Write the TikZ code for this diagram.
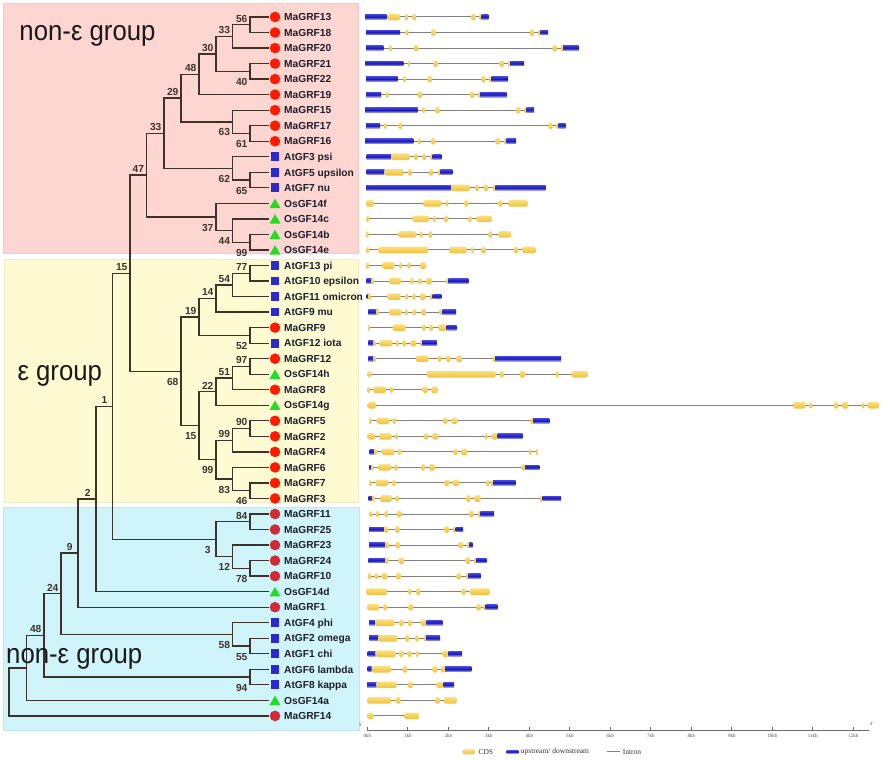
\documentclass[tikz,border=0pt]{standalone}
\usepackage{graphicx}
\usepackage{fontspec}
\setmainfont{Liberation Serif}
\newfontfamily\lsans{Liberation Sans}
\newfontfamily\lserif{Liberation Serif}
\usetikzlibrary{shapes.geometric,calc}
\definecolor{pinkbg}{HTML}{FDD5D1}
\definecolor{yelbg}{HTML}{FEFBD3}
\definecolor{bluebg}{HTML}{CFF4FA}
\definecolor{treec}{HTML}{3F322B}
\definecolor{redA}{HTML}{FF1A00}
\definecolor{redB}{HTML}{D12A36}
\definecolor{sqblue}{HTML}{2A2AD0}
\definecolor{trigreen}{HTML}{22DD22}
\definecolor{txtc}{HTML}{1E1E2E}
\definecolor{cdsT}{HTML}{FAE07E}
\definecolor{cdsB}{HTML}{F0C03A}
\definecolor{utrT}{HTML}{4040D8}
\definecolor{utrM}{HTML}{1616B4}
\definecolor{utrB}{HTML}{A8A8F0}
\definecolor{intronc}{HTML}{808080}
\definecolor{axisc}{HTML}{6A6A6A}

\newcommand\gene[4]{%
  \coordinate (gs#1) at (#2,{17+15.531*#1});
  \coordinate (ge#1) at (#3,{17+15.531*#1});
  \draw[intronl] (gs#1) -- (ge#1);
  \foreach \gk/\ga/\gb in {#4}{%
    \pgfmathsetmacro\rr{min(1.6,(\gb-\ga)/2)}%
    \if\gk u\relax
      \shade[utrs] (\ga,{17+15.531*#1-2.4}) rectangle (\gb,{17+15.531*#1+2.4});
    \else
      \shade[cdss, rounded corners=\rr pt] (\ga,{17+15.531*#1-3.3}) rectangle (\gb,{17+15.531*#1+3.3});
    \fi
  }%
}

\tikzset{
  br/.style={draw=treec, line width=1.3pt, line cap=rect},
  intronl/.style={draw=intronc, line width=1.0pt},
  utrs/.style={top color=utrT, bottom color=utrB, middle color=utrM},
  cdss/.style={top color=cdsT, bottom color=cdsB},
  mkr/.style={circle, fill=redA, minimum size=10.6pt, inner sep=0pt},
  mkd/.style={circle, fill=redB, minimum size=10.6pt, inner sep=0pt},
  mkb/.style={rectangle, fill=sqblue, minimum size=8.8pt, inner sep=0pt},
  mkg/.style={regular polygon, regular polygon sides=3, fill=trigreen, minimum size=12.6pt, inner sep=0pt, yshift=-1.5pt},
  lbl/.style={anchor=base west, inner sep=0pt, text=txtc, font=\lsans\bfseries\fontsize{10.2}{12}\selectfont},
  bs/.style={inner sep=0pt, text height=7.5pt, text depth=0pt, text=treec, font=\lsans\bfseries\fontsize{10.2}{12}\selectfont},
  bsa/.style={bs, anchor=south},
  bsb/.style={bs, anchor=north},
  big/.style={anchor=base west, inner sep=0pt, text=black!90, font=\lsans\fontsize{28}{30}\selectfont},
  axisl/.style={draw=axisc, line width=0.8pt},
  tick/.style={inner sep=0pt, text=black!70, font=\lserif\fontsize{5}{6}\selectfont},
  legtxt/.style={anchor=west, inner sep=0pt, text=black!80, font=\lserif\fontsize{7.5}{9}\selectfont},
}

\begin{document}
\begin{tikzpicture}[x=1pt, y=-1pt]
\useasboundingbox (0,0) rectangle (890,760);
\fill[white] (0,0) rectangle (890,760);

% group panels
\fill[pinkbg, draw=pinkbg!90!gray, line width=0.6pt] (3,3) rectangle (358,253);
\fill[yelbg, draw=yelbg!88!gray, line width=0.6pt] (4,259) rectangle (358,502);
\fill[bluebg, draw=bluebg!88!gray, line width=0.6pt] (3,507) rectangle (359,730);

% gene structures
\gene{0}{365}{488.3}{u/365/386.7, c/387.3/400, c/405/408, c/412.3/416.7, c/471.3/475.7, c/479.2/482, u/481.7/488.3}
\gene{1}{366}{548}{u/366/400, c/405.3/408.5, c/431/435.7, c/530/534.3, c/538/540.5, u/540.3/548}
\gene{2}{366}{578.7}{u/366/383.3, c/389/391.8, c/414/418.3, c/552.3/557, c/560.7/563.2, u/563/578.7}
\gene{3}{365}{524}{u/365/403.3, c/408/410.7, c/433.3/437.7, c/499.7/504, c/507.7/510.2, u/510/524}
\gene{4}{366}{508}{u/366/397.7, c/403.3/406, c/427.3/432, c/481.3/485.7, c/489/491.5, u/491.3/508}
\gene{5}{366}{506.7}{u/366/381, c/386/388.5, c/417.7/422, c/470/474.3, c/477.8/480.2, u/480/506.7}
\gene{6}{365}{534}{u/365/417.7, c/422.5/425, c/435.3/439.7, c/516/520.3, c/524.3/526.9, u/526.7/534}
\gene{7}{366}{565.7}{u/366/380, c/384.2/386.7, c/398.3/402.7, c/548.3/552.7, c/556.3/558.9, u/558.7/565.7}
\gene{8}{365}{516}{u/365/413.3, c/418.2/420.7, c/431/435.3, c/495.7/500, c/504/506.5, u/506.3/516}
\gene{9}{366.7}{441.7}{u/366.7/391, c/391/410, c/414/418, c/422.3/426.7, c/430.5/433, u/432.7/441.7}
\gene{10}{366.7}{452.3}{u/366.7/384.3, c/384.3/403.7, c/408/412, c/429/433, c/438/440.5, u/440.3/452.3}
\gene{11}{366}{545.7}{u/366/451, c/451/469.7, c/475/479, c/484/488, c/493/495.5, u/495.3/545.7}
\gene{12}{366}{527.7}{c/366/373.7, c/423.3/441.7, c/445.8/448.3, c/464.3/468.3, c/498.7/502.7, c/508.3/527.7}
\gene{13}{366.5}{492}{c/366.5/369, c/412.7/429, c/433/435.7, c/444.3/448.3, c/468.3/471.7, c/476.7/492}
\gene{14}{366}{511}{c/366/368.5, c/398.3/416.3, c/420/422.7, c/428.3/432.7, c/488.3/492.7, c/498.3/511}
\gene{15}{366.5}{536}{c/366.5/369, c/378.3/428.3, c/449/467, c/471/473.7, c/481/485.7, c/513.7/518.3, c/522.3/536}
\gene{16}{366.5}{426}{c/366.5/369, c/382.3/394.3, c/399.3/402, c/407.3/410.7, c/420/426}
\gene{17}{366.7}{468.3}{u/366.7/371.7, c/371.5/374, c/389/401, c/410.3/413.7, c/418.3/422, c/426.3/432, c/446.5/449, u/448.3/468.3}
\gene{18}{366.7}{441.3}{u/366.7/368.5, c/368.3/370.9, c/387.7/400.7, c/405/408.3, c/412.3/415.7, c/420/425.7, c/430.5/433, u/432.7/441.3}
\gene{19}{368.3}{456}{u/368.3/376.7, c/376.5/379, c/389/401.3, c/405/407.7, c/412.7/416.3, c/421/426.7, c/439.3/442.7, u/442.7/456}
\gene{20}{368}{456.7}{c/368/370.5, c/392.7/405.7, c/422.3/425.7, c/429.3/433, c/438.3/446.7, u/446.7/456.7}
\gene{21}{368.3}{436.7}{u/368.3/373.3, c/373.2/375.8, c/379.7/392.3, c/396/398.7, c/402.7/406.3, c/410.3/416.3, c/419.8/422.3, u/422/436.7}
\gene{22}{368.3}{561}{u/368.3/373.3, c/373.2/375.8, c/416/428.7, c/437.7/441, c/446/450.7, c/456.3/462.3, c/492.5/495.2, u/495/561}
\gene{23}{367.7}{587.7}{c/367.7/371.3, c/426.7/495.7, c/499.7/503.7, c/519.7/525.3, c/556.2/558.6, c/571.7/587.7}
\gene{24}{367.7}{437.7}{c/367.7/370.2, c/373.3/386, c/390/393, c/422.7/427.7, c/431.3/437.7}
\gene{25}{367.7}{879}{c/367.7/376, c/793.3/805.7, c/809/812.3, c/834/838.3, c/842/848.3, c/861.8/864.3, c/867.7/879}
\gene{26}{369}{549.3}{c/369/371.7, c/376.7/389.3, c/392.7/396, c/443.3/447.3, c/451.7/457.3, c/530.3/533.2, u/533/549.3}
\gene{27}{367.7}{522.7}{c/367.7/375, c/379/391.7, c/395/398.3, c/424/428.3, c/432.3/438.3, c/485/487.5, c/491.7/497.7, u/497.7/522.7}
\gene{28}{369.7}{538}{u/369.7/374, c/374/377, c/381.7/394.3, c/398/401.3, c/453.7/457.7, c/461/467.3, c/528.8/531.3, c/535.5/538}
\gene{29}{369}{539.3}{u/369/371.2, c/371/373.7, c/378.3/391, c/394.3/397.7, c/421/425.3, c/429/435, c/521.7/525.2, u/525/539.3}
\gene{30}{369}{515.7}{c/369/371.7, c/375.7/388.3, c/392/395.3, c/444.3/449.3, c/452.7/459, c/486.7/489.2, c/491/493.2, u/493/515.7}
\gene{31}{368.3}{561}{u/368.3/372.3, c/372.2/374.6, c/380/392, c/395.7/399, c/466/470.7, c/474.3/480.7, c/540/542.5, u/542.3/561}
\gene{32}{369.3}{494}{c/369.3/372.3, c/376/379, c/384.3/388.7, c/396.7/401.3, c/468.7/473.7, c/478/480.5, u/480.3/494}
\gene{33}{369}{463}{u/369/384.3, c/384.3/388.3, c/395/399.7, c/444.3/449, c/453.3/455.9, u/455.7/463}
\gene{34}{369}{472.3}{u/369/385, c/385/389, c/395.3/400, c/458.3/463, c/467/469.5, u/469.3/472.3}
\gene{35}{368.3}{486.7}{u/368.3/385, c/385/388.7, c/398.7/404, c/465.3/470.3, c/474/476.2, u/476/486.7}
\gene{36}{367.7}{480.7}{c/367.7/371, c/374.7/378, c/381.7/387.3, c/396/401, c/456.7/461, c/466/468.5, u/468.3/480.7}
\gene{37}{366}{490}{c/366/387, c/408.7/411.3, c/416/420.7, c/461.7/465.7, c/469.7/490}
\gene{38}{367.3}{497.3}{c/367.3/379, c/383.3/387.3, c/408.3/413.3, c/476.3/481, c/483.6/486, u/485.7/497.3}
\gene{39}{369}{442.3}{u/369/375, c/375/395, c/399/403.7, c/408/412, c/420.7/426.3, u/426.3/442.3}
\gene{40}{369}{440}{u/369/378.3, c/378.3/397.3, c/405/409.3, c/415/419, c/423.8/426.2, u/426/440}
\gene{41}{367.7}{462}{u/367.7/375.7, c/375.7/395.7, c/399/403.3, c/407.7/411.7, c/416/418.5, c/442.3/448.3, u/448.3/462}
\gene{42}{367.7}{471.3}{u/367.7/371.7, c/371.7/391, c/402.7/407.3, c/432.7/437.3, c/441/445, u/445/471.3}
\gene{43}{367}{454}{u/367/376.7, c/376.7/396.7, c/407.7/412.7, c/436.7/443.3, u/443.3/454}
\gene{44}{367}{456.7}{c/367/391, c/395.7/400.7, c/435/440, c/444/456.7}
\gene{45}{367.3}{419}{c/367.3/373.7, c/404.3/419}

% axis
\coordinate (ax0) at (367.3,730);
\coordinate (ax1) at (868.5,730);
\draw[axisl] (ax0) -- (ax1);
\foreach \k in {0,...,12}{
  \coordinate (tk\k) at ({367.3+40.5*\k},730);
  \draw[axisl] (tk\k) -- ++(0,-3);
  \node[tick] (tl\k) at ({367.3+40.5*\k},735.5) {\k kb};
}
\node[tick] (p5) at (360.5,724.5) {5'};
\node[tick] (p3) at (871.5,723.5) {3'};

% legend
\node[shade, top color=cdsT, bottom color=cdsB, rounded corners=2pt, minimum width=12.3pt, minimum height=5pt, inner sep=0pt] (lgc) at (468.8,751.8) {};
\node[legtxt] (lgct) at (478.3,751.7) {CDS};
\node[shade, top color=utrT, bottom color=utrB, middle color=utrM, minimum width=11.6pt, minimum height=3pt, inner sep=0pt] (lgu) at (512.5,751.8) {};
\node[legtxt] (lgut) at (520.7,751.7) {upstream/ downstream};
\coordinate (lgi0) at (606.7,751.7);
\coordinate (lgi1) at (620,751.7);
\draw[intronl] (lgi0) -- (lgi1);
\node[legtxt] (lgit) at (622.7,751.7) {Intron};

% tree: internal nodes
\foreach \n/\x/\y in {A/250/24.8, B/232.7/36.4, C/250/71.4, D/216/53.9, E/199/74.3, F/250/133.5, G/232.7/121.9, H/181/98.1, I/250/180.0, J/232.7/168.4, K/164/133.2, L/250/242.2, M/232.7/230.6, N/216/217.0, O/146.7/175.1,
 e77/250/273.3, e54/232.7/284.9, e14/216/298.5, e52/250/335.4, e19/199/317.0, e97/250/366.5, e51/232.7/378.1, e22/216/391.7, e90/250/428.6, e99/232.7/440.2, e46/250/490.7, e83/232.7/479.0, e99b/216/459.6, e15b/199/425.7, e68/181/371.3, n15/130/273.2,
 b84/250/521.7, b78/250/568.3, b12/232.7/556.7, b3/216/539.2, n1/112.7/406.2, n2/96/498.9, n9/78/553.0, b55/250/646.0, b58/232.7/634.3, n24/61/593.7, b94/250/677.0, n48/44/635.4, n0/26.7/667.9, root/9/691.9}
  {\coordinate (\n) at (\x,\y);}

% leaves
\foreach \i/\nm/\k in {0/MaGRF13/r, 1/MaGRF18/r, 2/MaGRF20/r, 3/MaGRF21/r, 4/MaGRF22/r, 5/MaGRF19/r, 6/MaGRF15/r, 7/MaGRF17/r, 8/MaGRF16/r, 9/AtGF3 psi/b, 10/AtGF5 upsilon/b, 11/AtGF7 nu/b, 12/OsGF14f/g, 13/OsGF14c/g, 14/OsGF14b/g, 15/OsGF14e/g, 16/AtGF13 pi/b, 17/AtGF10 epsilon/b, 18/AtGF11 omicron/b, 19/AtGF9 mu/b, 20/MaGRF9/r, 21/AtGF12 iota/b, 22/MaGRF12/r, 23/OsGF14h/g, 24/MaGRF8/r, 25/OsGF14g/g, 26/MaGRF5/r, 27/MaGRF2/r, 28/MaGRF4/r, 29/MaGRF6/r, 30/MaGRF7/r, 31/MaGRF3/r, 32/MaGRF11/d, 33/MaGRF25/d, 34/MaGRF23/d, 35/MaGRF24/d, 36/MaGRF10/d, 37/OsGF14d/g, 38/MaGRF1/d, 39/AtGF4 phi/b, 40/AtGF2 omega/b, 41/AtGF1 chi/b, 42/AtGF6 lambda/b, 43/AtGF8 kappa/b, 44/OsGF14a/g, 45/MaGRF14/d}{
  \coordinate (l\i) at (268.3,{17+15.531*\i});
  \node[mk\k] (m\i) at (275,{17+15.531*\i}) {};
  \node[lbl] (t\i) at (284,{17+15.531*\i+3.7}) {\nm};
}

% branches
\foreach \c/\p in {l0/A, l1/A, A/B, l2/B, l3/C, l4/C, B/D, C/D, D/E, l5/E, l7/F, l8/F, l6/G, F/G, E/H, G/H, l10/I, l11/I, l9/J, I/J, H/K, J/K, l14/L, l15/L, l13/M, L/M, l12/N, M/N, K/O, N/O,
 l16/e77, l17/e77, e77/e54, l18/e54, e54/e14, l19/e14, l20/e52, l21/e52, e14/e19, e52/e19, l22/e97, l23/e97, e97/e51, l24/e51, e51/e22, l25/e22, l26/e90, l27/e90, e90/e99, l28/e99, l30/e46, l31/e46, l29/e83, e46/e83, e99/e99b, e83/e99b, e22/e15b, e99b/e15b, e19/e68, e15b/e68, O/n15, e68/n15,
 l32/b84, l33/b84, l35/b78, l36/b78, l34/b12, b78/b12, b84/b3, b12/b3, n15/n1, b3/n1, n1/n2, l37/n2, n2/n9, l38/n9, l40/b55, l41/b55, l39/b58, b55/b58, n9/n24, b58/n24, l42/b94, l43/b94, n24/n48, b94/n48, n48/n0, l44/n0, n0/root, l45/root}
  {\draw[br] (\c) -| (\p);}

% bootstrap values
\foreach \n/\v in {A/56, B/33, D/30, E/48, H/29, K/33, O/47, e77/77, e54/54, e14/14, e19/19, e97/97, e51/51, e22/22, e90/90, e99/99, n15/15, b84/84, n1/1, n2/2, n9/9, n24/24, n48/48}
  {\node[bsa] (bs\n) at ([xshift=-8.3pt,yshift=2.5pt]\n) {\v};}
\foreach \n/\v in {C/40, G/63, F/61, J/62, I/65, N/37, M/44, L/99, e52/52, e46/46, e83/83, e99b/99, e15b/15, e68/68, b78/78, b12/12, b3/3, b58/58, b55/55, b94/94}
  {\node[bsb] (bs\n) at ([xshift=-8.3pt,yshift=-6.3pt]\n) {\v};}

% group titles
\node[big] (g1) at (19.3,40.7) {\scalebox{0.92}[1]{non-ε group}};
\node[big] (g2) at (17.3,380) {\scalebox{0.92}[1]{ε group}};
\node[big] (g3) at (6,663.3) {\scalebox{0.92}[1]{non-ε group}};
\end{tikzpicture}
\end{document}
